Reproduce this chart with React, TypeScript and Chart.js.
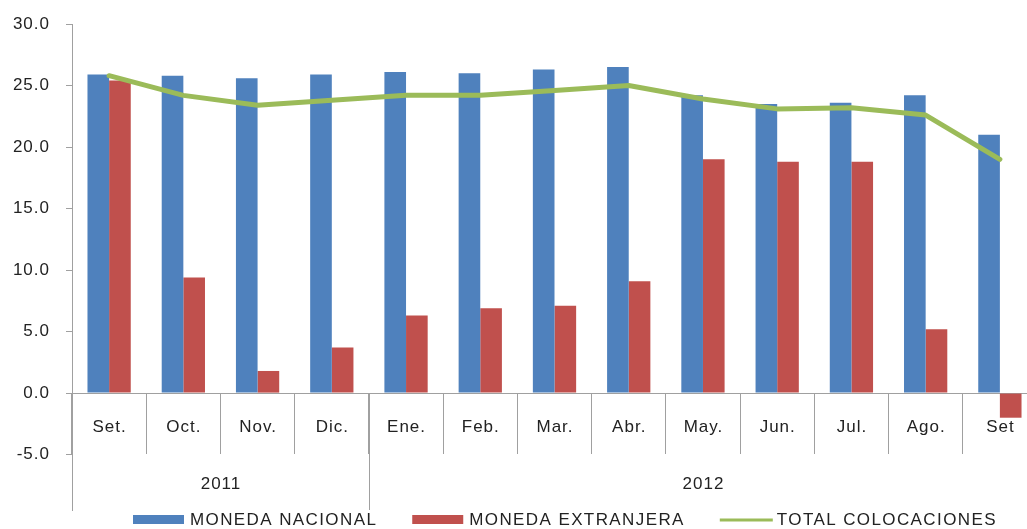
import React, { useEffect, useRef } from "react";
import { Chart, registerables } from "chart.js";

Chart.register(...registerables);

const categories = ["Set.", "Oct.", "Nov.", "Dic.", "Ene.", "Feb.", "Mar.", "Abr.", "May.", "Jun.", "Jul.", "Ago.", "Set"];
const yearLabels = ["2011", "2012"];
const yearSpans = [4, 9];
const monedaNacional = [25.9, 25.8, 25.6, 25.9, 26.1, 26.0, 26.3, 26.5, 24.2, 23.5, 23.6, 24.2, 21.0];
const monedaExtranjera = [25.4, 9.4, 1.8, 3.7, 6.3, 6.9, 7.1, 9.1, 19.0, 18.8, 18.8, 5.2, -2.0];
const totalColocaciones = [25.8, 24.2, 23.4, 23.8, 24.2, 24.2, 24.6, 25.0, 23.9, 23.1, 23.2, 22.6, 19.0];
const seriesNames = ["MONEDA NACIONAL", "MONEDA EXTRANJERA", "TOTAL COLOCACIONES"];
const yMin = -9.5;
const yMax = 30;
const yStep = 5;
const yLabelMin = -5;

const BLUE = "#4F81BD";
const RED = "#C0504D";
const GREEN = "#9BBB59";
const TEXT = "#222222";
const AXIS = "#a0a0a0";
const FONT_FAMILY = '"Liberation Sans", Arial, sans-serif';

const axisPlugin = {
  id: "customAxisLegend",
  beforeDraw(chart: any) {
    chart.ctx.letterSpacing = "1px";
  },
  afterDraw(chart: any) {
    const ctx = chart.ctx;
    const xs = chart.scales.x;
    const ys = chart.scales.y;
    const area = chart.chartArea;
    const y0 = ys.getPixelForValue(0);
    ctx.save();
    ctx.letterSpacing = "1px";
    ctx.font = `17px ${FONT_FAMILY}`;
    ctx.fillStyle = TEXT;
    ctx.textAlign = "center";
    ctx.textBaseline = "middle";
    categories.forEach((c, i) => {
      ctx.fillText(c, xs.getPixelForValue(i) + 0.5, y0 + 34);
    });
    let start = 0;
    yearLabels.forEach((lab, k) => {
      const end = start + yearSpans[k] - 1;
      const left = start === 0 ? area.left : (xs.getPixelForValue(start - 1) + xs.getPixelForValue(start)) / 2;
      const right = end === categories.length - 1 ? area.right : (xs.getPixelForValue(end) + xs.getPixelForValue(end + 1)) / 2;
      ctx.fillText(lab, (left + right) / 2 + 0.5, y0 + 91);
      if (k > 0) {
        ctx.strokeStyle = AXIS;
        ctx.lineWidth = 1;
        ctx.beginPath();
        const lx = Math.round(left) + 0.5;
        ctx.moveTo(lx, y0);
        ctx.lineTo(lx, area.bottom);
        ctx.stroke();
      }
      start = end + 1;
    });

    // legend
    const colors = [BLUE, RED, GREEN];
    let lx = 133;
    const ly = 520;
    ctx.textAlign = "left";
    ctx.letterSpacing = "1.4px";
    seriesNames.forEach((name, i) => {
      if (i < 2) {
        ctx.fillStyle = colors[i];
        ctx.fillRect(lx, ly - 5, 51, 9);
      } else {
        ctx.strokeStyle = colors[i];
        ctx.lineWidth = 3;
        ctx.beginPath();
        ctx.moveTo(lx, ly);
        ctx.lineTo(lx + 53, ly);
        ctx.stroke();
      }
      ctx.fillStyle = TEXT;
      ctx.fillText(name, lx + 57, ly);
      const w = ctx.measureText(name).width;
      lx += 57 + w + 35;
    });
    ctx.restore();
  },
};

export default function App() {
  const ref = useRef<HTMLCanvasElement | null>(null);
  useEffect(() => {
    if (!ref.current) return;
    const chart = new Chart(ref.current, {
      type: "bar",
      data: {
        labels: categories,
        datasets: [
          {
            type: "bar",
            label: seriesNames[0],
            data: monedaNacional,
            backgroundColor: BLUE,
            categoryPercentage: 0.583,
            barPercentage: 1,
            order: 1,
          },
          {
            type: "bar",
            label: seriesNames[1],
            data: monedaExtranjera,
            backgroundColor: RED,
            categoryPercentage: 0.583,
            barPercentage: 1,
            order: 1,
          },
          {
            type: "line",
            label: seriesNames[2],
            data: totalColocaciones,
            borderColor: GREEN,
            backgroundColor: GREEN,
            borderWidth: 5,
            pointRadius: 0,
            tension: 0,
            borderJoinStyle: "round",
            borderCapStyle: "round",
            order: 0,
          } as any,
        ],
      },
      options: {
        responsive: false,
        animation: false,
        devicePixelRatio: 1,
        layout: { padding: { left: 0, right: 3, top: 24, bottom: 19 } },
        plugins: {
          legend: { display: false },
          tooltip: { enabled: false },
        },
        scales: {
          x: {
            type: "category",
            position: { y: 0 } as any,
            offset: true,
            grid: {
              drawOnChartArea: false,
              offset: true,
              tickLength: 60,
              color: AXIS,
              drawTicks: true,
            },
            border: { display: true, color: AXIS },
            ticks: { display: false },
            afterFit: (scale: any) => {
              scale.paddingLeft = 0;
              scale.paddingRight = 0;
              scale.paddingTop = 0;
              scale.paddingBottom = 0;
              scale.height = 0;
            },
          },
          y: {
            min: yMin,
            max: yMax,
            ticks: {
              stepSize: yStep,
              padding: 16,
              color: TEXT,
              font: { family: FONT_FAMILY, size: 17 },
              callback: (v: any) => Number(v).toFixed(1),
            },
            afterBuildTicks: (scale: any) => {
              scale.ticks = scale.ticks.filter((t: any) => t.value >= yLabelMin);
            },
            afterFit: (scale: any) => {
              scale.width = 72;
              scale.paddingTop = 0;
              scale.paddingBottom = 0;
            },
            grid: {
              drawOnChartArea: false,
              tickLength: 6,
              color: AXIS,
            },
            border: { display: true, color: AXIS },
          },
        },
      },
      plugins: [axisPlugin],
    });
    return () => chart.destroy();
  }, []);
  return (
    <div
      style={{
        position: "fixed",
        left: 0,
        top: 0,
        width: 1027,
        height: 529,
        overflow: "hidden",
        background: "#ffffff",
      }}
    >
      <canvas ref={ref} width={1040} height={529} style={{ display: "block" }} />
    </div>
  );
}
